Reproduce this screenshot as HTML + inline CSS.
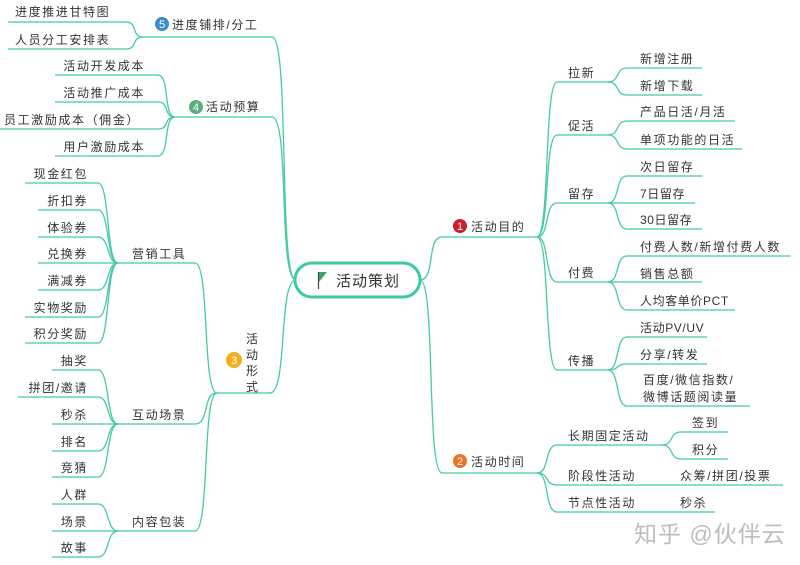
<!DOCTYPE html>
<html><head><meta charset="utf-8"><style>
html,body{margin:0;padding:0;background:#fff;}
svg{display:block;}
text{font-family:"Liberation Sans","Noto Sans CJK SC",sans-serif;font-size:12px;fill:#333;letter-spacing:1.6px;}
.e{text-anchor:end;}
.n{fill:#fff;font-size:11px;text-anchor:middle;letter-spacing:0;}
.l{letter-spacing:0.6px;}
</style></head><body>
<svg width="800" height="565" viewBox="0 0 800 565" xmlns="http://www.w3.org/2000/svg">
<g fill="none" stroke="#45c9a7" stroke-width="1.3">
<path d="M118 263 C106 263 110 183 98 183 H25"/>
<path d="M118 263 C106 263 110 210 98 210 H38"/>
<path d="M118 263 C106 263 110 237 98 237 H38"/>
<path d="M118 263 H38"/>
<path d="M118 263 C106 263 110 290 98 290 H38"/>
<path d="M118 263 C106 263 110 317 98 317 H25"/>
<path d="M118 263 C106 263 110 343 98 343 H25"/>
<path d="M118 263 H195 C210 263 202 393 217 393"/>
<path d="M118 424 C106 424 110 370 98 370 H52"/>
<path d="M118 424 C106 424 110 397 98 397 H18"/>
<path d="M118 424 H52"/>
<path d="M118 424 C106 424 110 451 98 451 H52"/>
<path d="M118 424 C106 424 110 477 98 477 H52"/>
<path d="M118 424 H195 C210 424 202 393 217 393"/>
<path d="M118 531 C106 531 110 504 98 504 H52"/>
<path d="M118 531 H52"/>
<path d="M118 531 C106 531 110 557 98 557 H52"/>
<path d="M118 531 H195 C210 531 202 393 217 393"/>
<path d="M217 393 H270 C288 393 278 280 296 280"/>
<path d="M175 117 C163 117 170 75 158 75 H55"/>
<path d="M175 117 C163 117 170 102 158 102 H55"/>
<path d="M175 117 C163 117 170 129 158 129 H0"/>
<path d="M175 117 C163 117 170 156 158 156 H55"/>
<path d="M175 117 H272 C290 117 278 280 296 280"/>
<path d="M143 37 C131 37 138 22 126 22 H8"/>
<path d="M143 37 C131 37 138 49 126 49 H8"/>
<path d="M143 37 H272 C290 37 278 280 296 280"/>
<path d="M420 280 C436 280 426 237 442 237 H537"/>
<path d="M420 280 C436 280 426 473 442 473 H537"/>
<path d="M537 237 C550 237 544 82 557 82 H608"/>
<path d="M537 237 C550 237 544 135 557 135 H608"/>
<path d="M537 237 C550 237 544 203 557 203 H608"/>
<path d="M537 237 C550 237 544 282 557 282 H608"/>
<path d="M537 237 C550 237 544 370 557 370 H608"/>
<path d="M608 82 C620 82 615 68 627 68 H702"/>
<path d="M608 82 C620 82 615 95 627 95 H702"/>
<path d="M608 135 C620 135 615 121 627 121 H735"/>
<path d="M608 135 C620 135 615 149 627 149 H742"/>
<path d="M608 203 C620 203 615 176 627 176 H702"/>
<path d="M608 203 H695"/>
<path d="M608 203 C620 203 615 229 627 229 H702"/>
<path d="M608 282 C620 282 615 256 627 256 H790"/>
<path d="M608 282 H702"/>
<path d="M608 282 C620 282 615 310 627 310 H735"/>
<path d="M608 370 C620 370 615 337 627 337 H707"/>
<path d="M608 370 C620 370 615 364 627 364 H707"/>
<path d="M608 370 C620 370 615 406 627 406 H750"/>
<path d="M537 473 C550 473 544 445 557 445 H662"/>
<path d="M537 473 C550 473 544 485 557 485 H783"/>
<path d="M537 473 C550 473 544 512 557 512 H715"/>
<path d="M662 445 C674 445 669 432 681 432 H728"/>
<path d="M662 445 C674 445 669 459 681 459 H728"/>
</g>
<rect x="295" y="263" width="125" height="34" rx="17" fill="#fff" stroke="#3cc9a3" stroke-width="3"/>
<line x1="318.5" y1="272" x2="318.5" y2="289" stroke="#444" stroke-width="1.2"/>
<polygon points="319,272 327,272 319,282" fill="#3aa860"/>
<text x="336" y="286" style="font-size:15px;letter-spacing:1px">活动策划</text>
<text x="15" y="16">进度推进甘特图</text>
<text x="15" y="44">人员分工安排表</text>
<circle cx="162" cy="24" r="7" fill="#3a8ccc"/><text class="n" x="162" y="28">5</text>
<text x="172" y="29">进度铺排/分工</text>
<text class="e" x="145" y="70">活动开发成本</text>
<text class="e" x="145" y="97">活动推广成本</text>
<text class="e" x="140" y="124">员工激励成本（佣金）</text>
<text class="e" x="145" y="151">用户激励成本</text>
<circle cx="196" cy="107" r="7" fill="#5aaf7a"/><text class="n" x="196" y="111">4</text>
<text x="206" y="111">活动预算</text>
<text class="e" x="88" y="178">现金红包</text>
<text class="e" x="88" y="205">折扣券</text>
<text class="e" x="88" y="232">体验券</text>
<text class="e" x="88" y="258">兑换券</text>
<text class="e" x="88" y="285">满减券</text>
<text class="e" x="88" y="312">实物奖励</text>
<text class="e" x="88" y="338">积分奖励</text>
<text x="132" y="258">营销工具</text>
<text class="e" x="88" y="365">抽奖</text>
<text class="e" x="88" y="392">拼团/邀请</text>
<text class="e" x="88" y="419">秒杀</text>
<text class="e" x="88" y="446">排名</text>
<text class="e" x="88" y="472">竞猜</text>
<text x="132" y="419">互动场景</text>
<text class="e" x="88" y="499">人群</text>
<text class="e" x="88" y="526">场景</text>
<text class="e" x="88" y="552">故事</text>
<text x="132" y="526">内容包装</text>
<circle cx="234" cy="360" r="8" fill="#f0b020"/><text class="n" x="234" y="364">3</text>
<text x="246" y="343">活</text>
<text x="246" y="359">动</text>
<text x="246" y="375">形</text>
<text x="246" y="391">式</text>
<circle cx="460" cy="226" r="7" fill="#cc1f2a"/><text class="n" x="460" y="230">1</text>
<text x="471" y="231">活动目的</text>
<circle cx="460" cy="461" r="7" fill="#e8742a"/><text class="n" x="460" y="465">2</text>
<text x="471" y="466">活动时间</text>
<text x="568" y="77">拉新</text>
<text x="568" y="130">促活</text>
<text x="568" y="198">留存</text>
<text x="568" y="277">付费</text>
<text x="568" y="365">传播</text>
<text x="640" y="63">新增注册</text>
<text x="640" y="90">新增下载</text>
<text x="640" y="116">产品日活/月活</text>
<text x="640" y="144">单项功能的日活</text>
<text x="640" y="171">次日留存</text>
<text x="640" y="198" class="l">7日留存</text>
<text x="640" y="224" class="l">30日留存</text>
<text x="640" y="251">付费人数/新增付费人数</text>
<text x="640" y="278">销售总额</text>
<text x="640" y="305" class="l">人均客单价PCT</text>
<text x="640" y="332" class="l">活动PV/UV</text>
<text x="640" y="359">分享/转发</text>
<text x="643" y="384">百度/微信指数/</text>
<text x="643" y="401">微博话题阅读量</text>
<text x="568" y="440">长期固定活动</text>
<text x="692" y="427">签到</text>
<text x="692" y="454">积分</text>
<text x="568" y="480">阶段性活动</text>
<text x="680" y="480">众筹/拼团/投票</text>
<text x="568" y="507">节点性活动</text>
<text x="680" y="507">秒杀</text>
<text x="634" y="542" style="font-size:23px;fill:#bdbdbd;letter-spacing:1px">知乎 @伙伴云</text>
</svg>
</body></html>
